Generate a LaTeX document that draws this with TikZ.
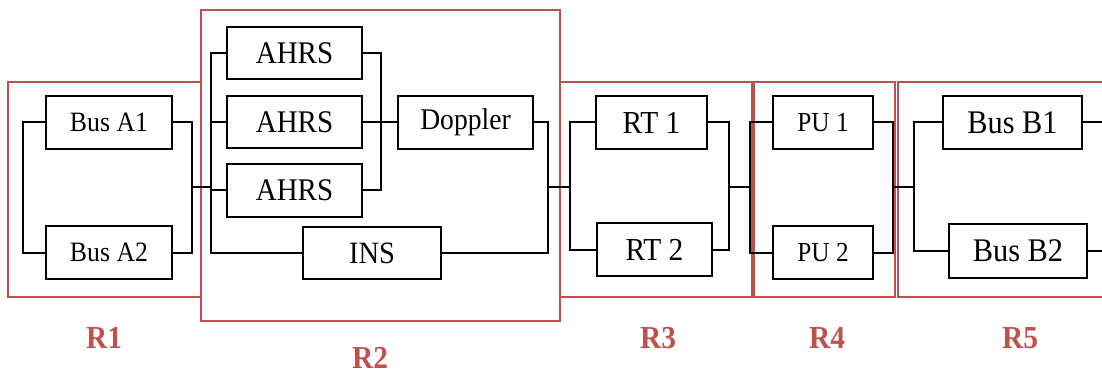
\documentclass[tikz,border=0pt]{standalone}
\usepackage{fontspec}
\setmainfont{Liberation Serif}[FakeStretch=0.92]
\definecolor{rred}{HTML}{C0504D}
\newcommand\myfs[1]{\fontsize{#1}{#1}\selectfont}
\begin{document}
\begin{tikzpicture}[x=1pt,y=-1pt,
  blk/.style={draw=black,line width=2pt,inner sep=0pt,minimum height=53pt},
  wire/.style={draw=black,line width=2pt},
  region/.style={draw=rred,line width=2pt},
  rlabel/.style={text=rred,font=\bfseries\myfs{32}}]
\clip (0,0) rectangle (1102,374);
% regions
\draw[region] (8,82) rectangle (201,297);
\draw[region] (201,10) rectangle (560,321);
\draw[region] (560,82) rectangle (752,297);
\draw[region] (754,82) rectangle (895,297);
\draw[region] (898,82) rectangle (1112,297);
% blocks
\node[blk,minimum width=126pt,font=\myfs{28}] (ba1) at (109,122.5) {Bus A1};
\node[blk,minimum width=126pt,font=\myfs{28}] (ba2) at (109,252.5) {Bus A2};
\node[blk,minimum width=135pt,minimum height=52pt,font=\myfs{31.5}] (ah1) at (294.5,53) {AHRS};
\node[blk,minimum width=135pt,minimum height=52pt,font=\myfs{31.5}] (ah2) at (294.5,122.5) {AHRS};
\node[blk,minimum width=135pt,minimum height=52pt,font=\myfs{31.5}] (ah3) at (294.5,190.5) {AHRS};
\node[blk,minimum width=138pt,minimum height=52pt,font=\myfs{31}] (ins) at (372,253) {INS};
\node[blk,minimum width=135pt,font=\myfs{30}] (dop) at (465.5,122.5) {Doppler};
\node[blk,minimum width=111pt,font=\myfs{32}] (rt1) at (651.5,122.5) {RT 1};
\node[blk,minimum width=115pt,font=\myfs{32}] (rt2) at (654.5,249.5) {RT 2};
\node[blk,minimum width=100pt,font=\myfs{27.5}] (pu1) at (823,122.5) {PU 1};
\node[blk,minimum width=100pt,font=\myfs{27.5}] (pu2) at (823,252.5) {PU 2};
\node[blk,minimum width=139pt,font=\myfs{33}] (bb1) at (1012.5,122.5) {Bus B1};
\node[blk,minimum width=138pt,minimum height=54pt,font=\myfs{33}] (bb2) at (1018,251) {Bus B2};
% bus coordinates
\coordinate (r1l) at (23,187);
\coordinate (r1r) at (192,187);
\coordinate (r2l) at (211,187);
\coordinate (ahr) at (381,122.5);
\coordinate (r2r) at (548,187);
\coordinate (r3l) at (570,187);
\coordinate (r3r) at (729,187);
\coordinate (r4l) at (750,187);
\coordinate (r4r) at (893,187);
\coordinate (r5l) at (914,187);
\coordinate (o1) at (1110,122.5);
\coordinate (o2) at (1110,251);
% R1
\draw[wire] (ba1.west) -| (r1l) |- (ba2.west);
\draw[wire] (ba1.east) -| (r1r) |- (ba2.east);
\draw[wire] (r1r) -- (r2l);
% R2
\draw[wire] (ah1.west) -| (r2l) |- (ins.west);
\draw[wire] (ah2.west) -- (ah2.west -| r2l);
\draw[wire] (ah3.west) -- (ah3.west -| r2l);
\draw[wire] (ah1.east) -| (ahr) |- (ah3.east);
\draw[wire] (ah2.east) -- (dop.west);
\draw[wire] (dop.east) -| (r2r) |- (ins.east);
\draw[wire] (r2r) -- (r3l);
% R3
\draw[wire] (rt1.west) -| (r3l) |- (rt2.west);
\draw[wire] (rt1.east) -| (r3r) |- (rt2.east);
\draw[wire] (r3r) -- (r4l);
% R4
\draw[wire] (pu1.west) -| (r4l) |- (pu2.west);
\draw[wire] (pu1.east) -| (r4r) |- (pu2.east);
\draw[wire] (r4r) -- (r5l);
% R5
\draw[wire] (bb1.west) -| (r5l) |- (bb2.west);
\draw[wire] (bb1.east) -- (o1);
\draw[wire] (bb2.east) -- (o2);
% labels
\node[rlabel] (l1) at (104,338) {R1};
\node[rlabel] (l2) at (370,358) {R2};
\node[rlabel] (l3) at (658,338) {R3};
\node[rlabel] (l4) at (827,338) {R4};
\node[rlabel] (l5) at (1020,338) {R5};
\end{tikzpicture}
\end{document}
